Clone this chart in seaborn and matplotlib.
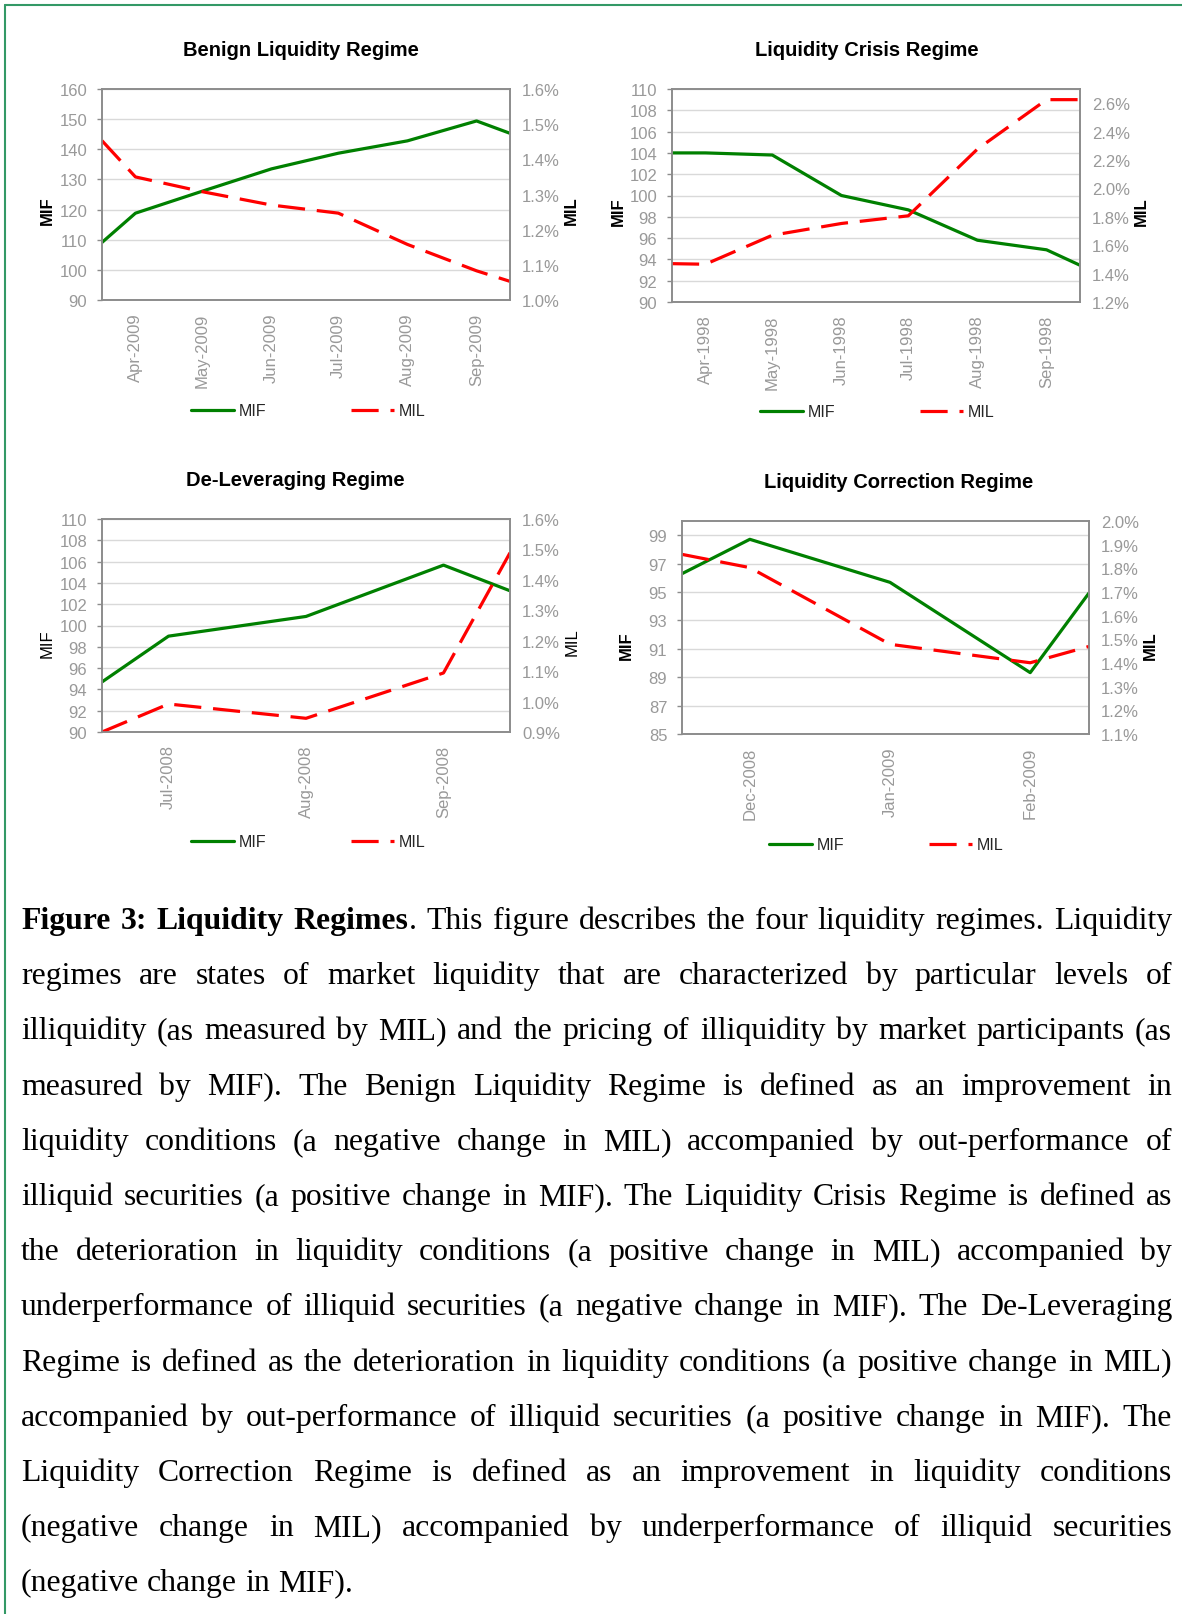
import numpy as np
import pandas as pd
import matplotlib
matplotlib.use("Agg")
import matplotlib.pyplot as plt
import matplotlib.dates as mdates
from matplotlib.lines import Line2D
import seaborn as sns

# ---------------- data ----------------
titles = ["Benign Liquidity Regime", "Liquidity Crisis Regime",
          "De-Leveraging Regime", "Liquidity Correction Regime"]

benign_dates = ["2009-04-01", "2009-04-16", "2009-05-16", "2009-06-16",
                "2009-07-16", "2009-08-16", "2009-09-16", "2009-10-01"]
benign_mif = [109.1, 118.8, 126.1, 133.5, 138.7, 142.8, 149.4, 145.3]
benign_mil = [1.453, 1.350, 1.308, 1.270, 1.247, 1.158, 1.083, 1.053]

crisis_dates = ["1998-04-01", "1998-04-16", "1998-05-16", "1998-06-16",
                "1998-07-16", "1998-08-16", "1998-09-16", "1998-10-01"]
crisis_mif = [104.0, 104.0, 103.8, 100.0, 98.65, 95.8, 94.9, 93.45]
crisis_mil = [1.470, 1.466, 1.670, 1.753, 1.807, 2.277, 2.625, 2.625]

delev_dates = ["2008-07-01", "2008-07-16", "2008-08-16", "2008-09-16", "2008-10-01"]
delev_mif = [94.7, 99.0, 100.85, 105.67, 103.26]
delev_mil = [0.900, 0.992, 0.945, 1.094, 1.489]

corr_dates = ["2008-12-01", "2008-12-16", "2009-01-16", "2009-02-16", "2009-03-01"]
corr_mif = [96.29, 98.71, 95.68, 89.32, 94.93]
corr_mil = [1.859, 1.803, 1.479, 1.401, 1.470]

mif_lims = [(90, 160), (90, 110), (90, 110), (85, 100)]
mif_ticks = [[90, 100, 110, 120, 130, 140, 150, 160],
             [90, 92, 94, 96, 98, 100, 102, 104, 106, 108, 110],
             [90, 92, 94, 96, 98, 100, 102, 104, 106, 108, 110],
             [85, 87, 89, 91, 93, 95, 97, 99]]
mil_lims = [(1.0, 1.6), (1.2, 2.7), (0.9, 1.6), (1.1, 2.0)]
mil_ticks = [[1.0, 1.1, 1.2, 1.3, 1.4, 1.5, 1.6],
             [1.2, 1.4, 1.6, 1.8, 2.0, 2.2, 2.4, 2.6],
             [0.9, 1.0, 1.1, 1.2, 1.3, 1.4, 1.5, 1.6],
             [1.1, 1.2, 1.3, 1.4, 1.5, 1.6, 1.7, 1.8, 1.9, 2.0]]

series = [(benign_dates, benign_mif, benign_mil),
          (crisis_dates, crisis_mif, crisis_mil),
          (delev_dates, delev_mif, delev_mil),
          (corr_dates, corr_mif, corr_mil)]

caption_lines = [
    "**Figure 3: Liquidity Regimes**. This figure describes the four liquidity regimes. Liquidity",
    "regimes are states of market liquidity that are characterized by particular levels of",
    "illiquidity (as measured by MIL) and the pricing of illiquidity by market participants (as",
    "measured by MIF). The Benign Liquidity Regime is defined as an improvement in",
    "liquidity conditions (a negative change in MIL) accompanied by out-performance of",
    "illiquid securities (a positive change in MIF). The Liquidity Crisis Regime is defined as",
    "the deterioration in liquidity conditions (a positive change in MIL) accompanied by",
    "underperformance of illiquid securities (a negative change in MIF). The De-Leveraging",
    "Regime is defined as the deterioration in liquidity conditions (a positive change in MIL)",
    "accompanied by out-performance of illiquid securities (a positive change in MIF). The",
    "Liquidity Correction Regime is defined as an improvement in liquidity conditions",
    "(negative change in MIL) accompanied by underperformance of illiquid securities",
    "(negative change in MIF).",
]

# ---------------- layout (pixels) ----------------
W, H, DPI = 1182, 1615, 100
boxes = [(102, 90, 510, 301), (672, 90, 1080, 303),
         (102, 520, 510, 733), (682, 522, 1089, 735)]
title_pos = [(301, 50), (867, 51), (295, 481), (899, 483)]
mif_lab_pos = [(47, 211), (618, 212), (47, 644), (626, 646)]
mil_lab_pos = [(571, 211), (1141, 212), (572, 642), (1150, 646)]
legend_pos = [(308, 412), (877, 413), (308, 843), (886, 846)]
label_weight = ["bold", "bold", "normal", "bold"]

GREEN = "#008000"
RED = "#FF0000"
TICKC = "#999999"
SPINEC = "#8c8c8c"
GRIDC = "#d9d9d9"

sns.set_style("white")
plt.rcParams["font.family"] = ["Liberation Sans", "DejaVu Sans"]

fig = plt.figure(figsize=(W / DPI, H / DPI), dpi=DPI)
fig.patch.set_facecolor("white")


def px_box(l, t, r, b):
    return [l / W, 1 - b / H, (r - l) / W, (b - t) / H]


for i in range(4):
    l, t, r, b = boxes[i]
    dates, mif, mil = series[i]
    d = pd.to_datetime(pd.Series(dates))
    ax = fig.add_axes(px_box(l, t, r, b))
    ax2 = ax.twinx()

    sns.lineplot(x=d, y=mif, ax=ax, color=GREEN, lw=2.3, label="MIF",
                 legend=False, sort=False, errorbar=None)
    sns.lineplot(x=d, y=mil, ax=ax2, color=RED, lw=2.3, label="MIL",
                 legend=False, sort=False, errorbar=None,
                 linestyle=(0, (8.5, 3.7)))

    ax.set_xlim(d.iloc[0], d.iloc[-1])
    ax.set_ylim(*mif_lims[i])
    ax.set_yticks(mif_ticks[i])
    ax.set_yticklabels([f"{v:d}" for v in mif_ticks[i]])
    ax2.set_ylim(*mil_lims[i])
    ax2.set_yticks(mil_ticks[i])
    ax2.set_yticklabels([f"{v:.1f}%" for v in mil_ticks[i]])

    ax.xaxis.set_major_locator(mdates.MonthLocator(bymonthday=16))
    ax.xaxis.set_major_formatter(mdates.DateFormatter("%b-%Y"))
    ax.xaxis.set_minor_locator(mdates.MonthLocator(bymonthday=1))
    ax.tick_params(axis="x", which="major", length=0, pad=9,
                   labelrotation=90, labelsize=12, labelcolor=TICKC)
    ax.tick_params(axis="x", which="minor", length=3.5, width=1,
                   color=SPINEC, direction="out")
    ax.tick_params(axis="y", which="major", length=3.6, width=1,
                   color=SPINEC, direction="out", pad=7,
                   labelsize=12, labelcolor=TICKC)
    ax2.tick_params(axis="y", which="major", length=0, pad=8.6,
                    labelsize=12, labelcolor=TICKC)

    ax.yaxis.grid(True, color=GRIDC, lw=1.0)
    ax.xaxis.grid(False)
    ax.set_axisbelow(True)
    for a in (ax, ax2):
        for s in a.spines.values():
            s.set_color(SPINEC)
            s.set_linewidth(1.2)
            s.set_visible(True)

    ax.set_xlabel("")
    ax.set_ylabel("MIF", fontsize=12, fontweight=label_weight[i], color="black")
    ax2.set_ylabel("MIL", fontsize=12, fontweight=label_weight[i], color="black")
    mx, my = mif_lab_pos[i]
    ax.yaxis.set_label_coords((mx - l) / (r - l), (b - my) / (b - t))
    ax.yaxis.label.set_verticalalignment("center")
    nx, ny = mil_lab_pos[i]
    ax2.yaxis.set_label_coords((nx - l) / (r - l), (b - ny) / (b - t))
    ax2.yaxis.label.set_verticalalignment("center")

    tx, ty = title_pos[i]
    fig.text(tx / W, 1 - ty / H, titles[i], ha="center", va="center",
             fontsize=14.5, fontweight="bold", color="black")

    handles = [ax.get_lines()[0], ax2.get_lines()[0]]
    lx, ly = legend_pos[i]
    ax.legend(handles, ["MIF", "MIL"], loc="center",
              bbox_to_anchor=(lx / W, 1 - ly / H), bbox_transform=fig.transFigure,
              ncol=2, frameon=False, fontsize=11.5, handlelength=2.7,
              handletextpad=0.3, columnspacing=5.3, borderaxespad=0,
              borderpad=0)

# ---------------- border ----------------
BORDER = "#339966"
fig.add_artist(Line2D([5 / W, 5 / W], [0, 1 - 6 / H], color=BORDER, lw=1.5,
                      transform=fig.transFigure))
fig.add_artist(Line2D([5 / W, 1], [1 - 6 / H, 1 - 6 / H], color=BORDER, lw=1.5,
                      transform=fig.transFigure))

# ---------------- caption (justified) ----------------
cap_font = dict(family=["Liberation Serif", "DejaVu Serif"], fontsize=22.9, color="black")
renderer = fig.canvas.get_renderer()
_cache = {}


def text_width(s, bold):
    key = (s, bold)
    if key not in _cache:
        t = fig.text(0, 0, s, fontweight="bold" if bold else "normal", **cap_font)
        _cache[key] = t.get_window_extent(renderer=renderer).width
        t.remove()
    return _cache[key]


def parse(line, bold_state):
    words = []
    for w in line.split(" "):
        segs = []
        parts = w.split("**")
        for j, p in enumerate(parts):
            if j > 0:
                bold_state = not bold_state
            if p:
                segs.append((p, bold_state))
        words.append(segs)
    return words, bold_state


L_PX, R_PX = 21, 1172
BASE0, LEAD = 929, 55.2
space_w = text_width("a a", False) - text_width("aa", False)
bold = False
for k, line in enumerate(caption_lines):
    words, bold = parse(line, bold)
    widths = [sum(text_width(s, bb) for s, bb in w) for w in words]
    last = (k == len(caption_lines) - 1)
    if last or len(words) == 1:
        gap = space_w
    else:
        gap = (R_PX - L_PX - sum(widths)) / (len(words) - 1)
    x = L_PX
    y = BASE0 + k * LEAD
    for w, wd in zip(words, widths):
        xx = x
        for s, bb in w:
            fig.text(xx / W, 1 - y / H, s, ha="left", va="baseline",
                     fontweight="bold" if bb else "normal", **cap_font)
            xx += text_width(s, bb)
        x += wd + gap

fig.savefig("out.png", dpi=DPI)
